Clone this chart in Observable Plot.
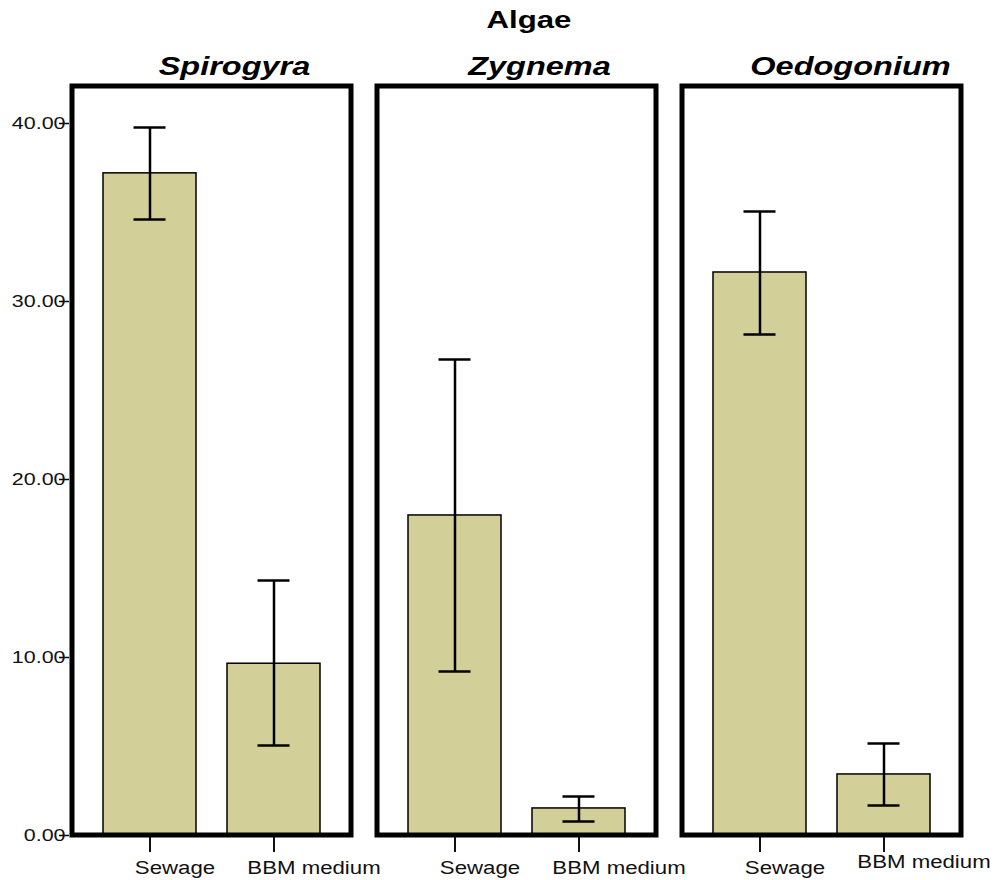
<!DOCTYPE html>
<html>
<head>
<meta charset="utf-8">
<script src="https://cdn.jsdelivr.net/npm/d3@7"></script>
<script src="https://cdn.jsdelivr.net/npm/@observablehq/plot@0.6"></script>
<style>
  html, body { margin: 0; padding: 0; background: #fff; }
  #chart svg { font-family: "Liberation Sans", Arial, sans-serif; }
</style>
</head>
<body>
<div id="chart"></div>
<script>
// ---- data ----
const title = "Algae";
const algae = ["Spirogyra", "Zygnema", "Oedogonium"];
const groups = ["Sewage", "BBM medium"];
const means = {
  Spirogyra: [37.2, 9.65],
  Zygnema: [17.98, 1.52],
  Oedogonium: [31.63, 3.43]
};
const errLow = {
  Spirogyra: [34.6, 5.06],
  Zygnema: [9.21, 0.79],
  Oedogonium: [28.15, 1.69]
};
const errHigh = {
  Spirogyra: [39.78, 14.33],
  Zygnema: [26.74, 2.19],
  Oedogonium: [35.06, 5.17]
};
const yTicks = [0, 10, 20, 30, 40];

const rows = [];
for (const a of algae) {
  groups.forEach((g, i) => {
    rows.push({algae: a, group: g, mean: means[a][i], lo: errLow[a][i], hi: errHigh[a][i]});
  });
}
const titles = algae.map(a => ({algae: a}));

const barFill = "#d3cf98";

const plot = Plot.plot({
  width: 998,
  height: 880,
  marginLeft: 68,
  marginRight: 35,
  marginTop: 83,
  marginBottom: 43,
  style: {fontFamily: "'Liberation Sans', Arial, sans-serif", background: "#fff"},
  fx: {domain: algae, paddingInner: 0.0704, paddingOuter: 0, axis: null, label: null},
  x: {domain: groups, paddingInner: 0.253, paddingOuter: 0.265, label: null},
  y: {domain: [0, 40], range: [835, 123], label: null},
  marks: [
    Plot.barY(rows, {fx: "algae", x: "group", y: "mean", fill: barFill, stroke: "black", strokeWidth: 1.5}),
    Plot.ruleX(rows, {fx: "algae", x: "group", y1: "lo", y2: "hi", stroke: "black", strokeWidth: 2.5}),
    Plot.tickY(rows, {fx: "algae", x: "group", y: "hi", stroke: "black", strokeWidth: 2.5, inset: 30.5}),
    Plot.tickY(rows, {fx: "algae", x: "group", y: "lo", stroke: "black", strokeWidth: 2.5, inset: 30.5}),
    Plot.frame({stroke: "black", strokeWidth: 5, inset: 2.5}),
    Plot.axisY({anchor: "left", ticks: yTicks, tickFormat: d3.format(".2f"), tickSize: 10, tickPadding: -6, fontSize: 16.5, label: null, stroke: "black", strokeWidth: 1.5, color: "#111"}),
    Plot.axisX({anchor: "bottom", tickSize: 15, tickPadding: 10, fontSize: 19, label: null, strokeWidth: 2, color: "#111"}),
    Plot.text(titles, {fx: "algae", text: "algae", frameAnchor: "top", lineAnchor: "bottom", dy: -9, dx: 23, fontSize: 26, fontWeight: "bold", fontStyle: "italic", fill: "black"})
  ]
});

document.getElementById("chart").appendChild(plot);

// Title (real SVG text)
const svg = d3.select(plot.tagName.toLowerCase() === "svg" ? plot : plot.querySelector("svg"));
svg.append("text")
  .attr("class", "chart-title")
  .attr("text-anchor", "middle")
  .attr("transform", "translate(529,28)")
  .attr("font-size", 24)
  .attr("font-weight", "bold")
  .attr("fill", "black")
  .text(title);

// The original chart is horizontally stretched: widen the text glyphs around their anchors
function stretch(nodes, s, ox = 0, oy = 0) {
  nodes.forEach(t => {
    let tr = t.getAttribute("transform") || "";
    if (t.hasAttribute("x") || t.hasAttribute("y")) {
      const x = +t.getAttribute("x") || 0, y = +t.getAttribute("y") || 0;
      t.removeAttribute("x"); t.removeAttribute("y");
      tr = tr + ` translate(${x},${y})`;
    }
    const extra = typeof ox === "function" ? ox(t) : ox;
    t.setAttribute("transform", `translate(${extra},${oy}) ` + tr + ` scale(${s},1)`);
  });
}
const root = svg.node();
stretch(root.querySelectorAll('g[aria-label="y-axis tick label"] text'), 1.3, 0, 5);
const xl = Array.from(root.querySelectorAll('g[aria-label="x-axis tick label"] text'));
stretch(xl, 1.17, t => (t.textContent.trim() === "BBM medium" ? 40 : 25), 11);
// last BBM medium label sits slightly higher in the original
if (xl.length) {
  const last = xl[xl.length - 1];
  last.setAttribute("transform", "translate(0,-6) " + last.getAttribute("transform"));
}
stretch(root.querySelectorAll('g[aria-label="text"] text'), 1.25, t => (t.textContent.trim() === "Oedogonium" ? 6 : 0));
stretch(root.querySelectorAll('text.chart-title'), 1.3);
</script>
</body>
</html>
